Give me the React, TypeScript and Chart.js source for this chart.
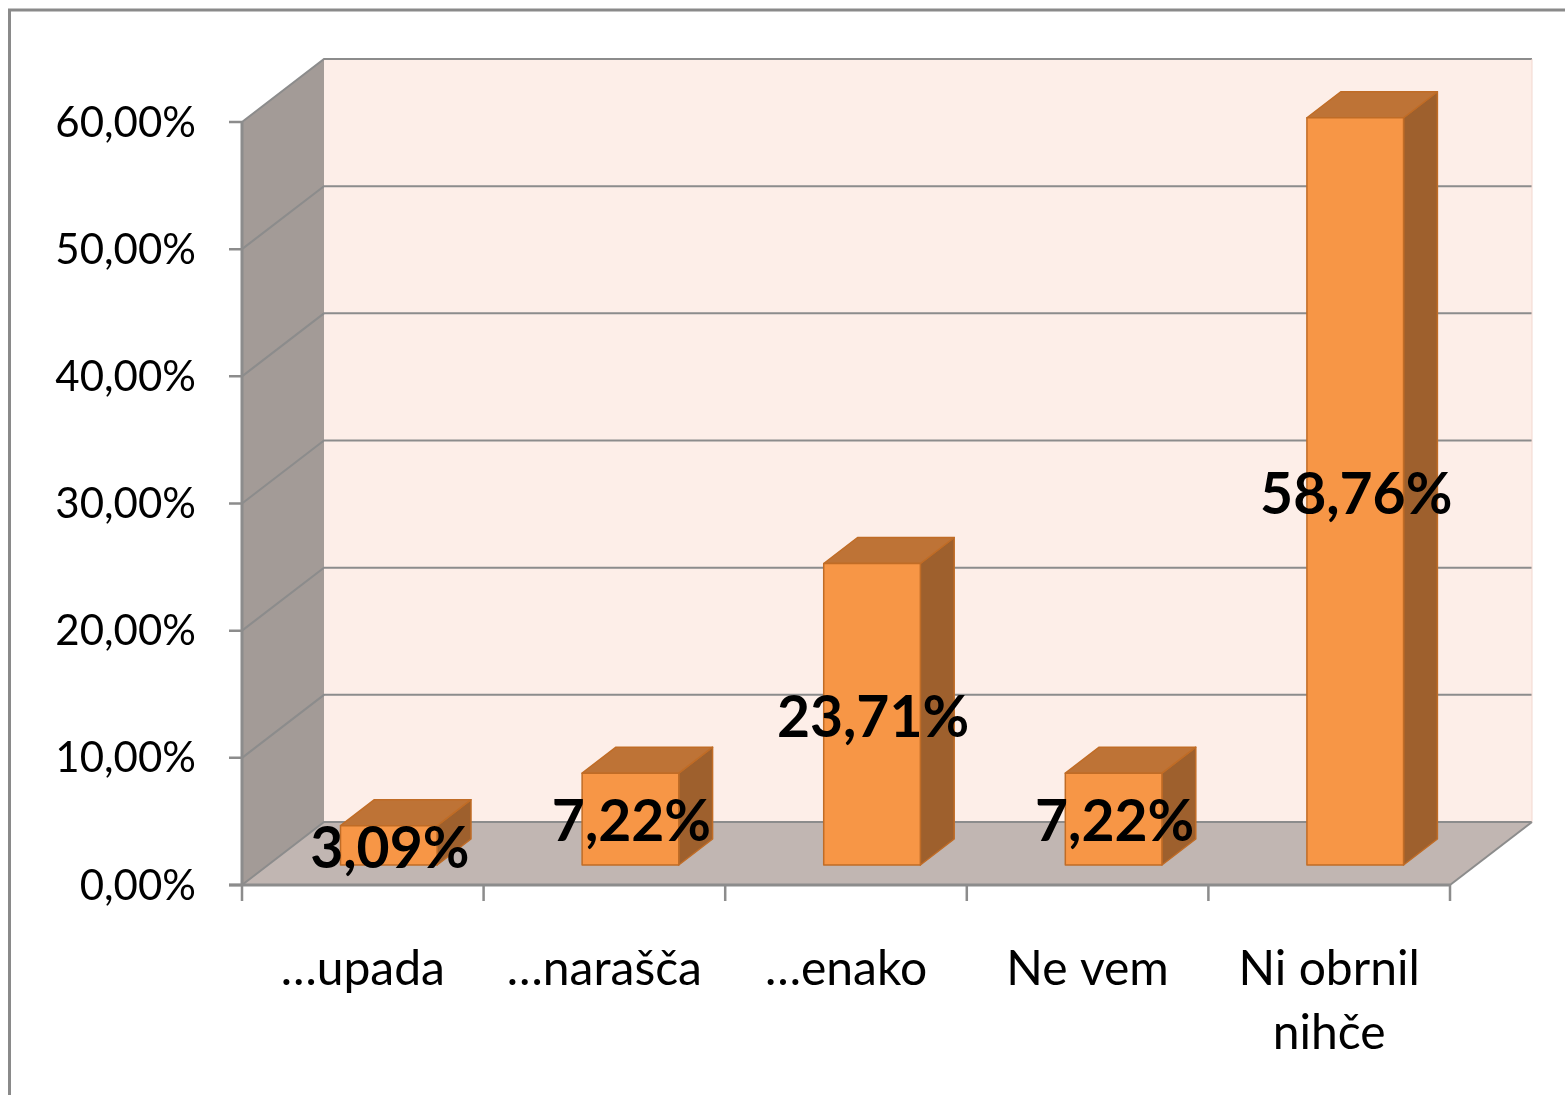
import React, { useEffect, useRef } from "react";
import { Chart, registerables } from "chart.js";

Chart.register(...registerables);

const categories: string[][] = [["…upada"], ["…narašča"], ["…enako"], ["Ne vem"], ["Ni obrnil", "nihče"]];
const values: number[] = [3.09, 7.22, 23.71, 7.22, 58.76];
const valueLabels: string[] = ["3,09%", "7,22%", "23,71%", "7,22%", "58,76%"];
const yTickValues: number[] = [0, 10, 20, 30, 40, 50, 60];
const yTickLabels: string[] = ["0,00%", "10,00%", "20,00%", "30,00%", "40,00%", "50,00%", "60,00%"];

const W = 1565;
const H = 1095;
const DEPTH_X = 82;
const DEPTH_Y = -63;
const FRONT_FRAC = 20 / 63;
const BAR_FRAC = 26 / 63;
const FONT = "Lato, 'Open Sans', sans-serif";

const threeDPlugin = {
  id: "threeD",
  beforeDraw(chart: any) {
    const ctx = chart.ctx;
    ctx.save();
    ctx.fillStyle = "#ffffff";
    ctx.fillRect(0, 0, W, H);
    // outer border
    ctx.strokeStyle = "#8a8a8a";
    ctx.lineWidth = 3;
    ctx.beginPath();
    ctx.moveTo(9.5, H + 10);
    ctx.lineTo(9.5, 10);
    ctx.lineTo(W + 10, 10);
    ctx.stroke();
    ctx.restore();
  },
  afterDatasetsDraw(chart: any) {
    const ctx = chart.ctx;
    const ca = chart.chartArea;
    const ys = chart.scales.y;
    const xs = chart.scales.x;
    const L = ca.left, R = ca.right, B = ys.getPixelForValue(0), T = ys.getPixelForValue(60);
    ctx.save();

    // left side wall
    ctx.fillStyle = "#a39b97";
    ctx.beginPath();
    ctx.moveTo(L, B);
    ctx.lineTo(L, T);
    ctx.lineTo(L + DEPTH_X, T + DEPTH_Y);
    ctx.lineTo(L + DEPTH_X, B + DEPTH_Y);
    ctx.closePath();
    ctx.fill();

    // back wall
    ctx.fillStyle = "#fdeee8";
    ctx.fillRect(L + DEPTH_X, T + DEPTH_Y, R - L, B - T);

    // floor
    ctx.fillStyle = "#c1b6b2";
    ctx.beginPath();
    ctx.moveTo(L, B);
    ctx.lineTo(L + DEPTH_X, B + DEPTH_Y);
    ctx.lineTo(R + DEPTH_X, B + DEPTH_Y);
    ctx.lineTo(R, B);
    ctx.closePath();
    ctx.fill();

    // gridlines
    ctx.strokeStyle = "#8c8c8c";
    ctx.lineWidth = 2;
    yTickValues.forEach((v) => {
      const py = ys.getPixelForValue(v);
      ctx.beginPath();
      ctx.moveTo(L, py);
      ctx.lineTo(L + DEPTH_X, py + DEPTH_Y);
      ctx.lineTo(R + DEPTH_X, py + DEPTH_Y);
      ctx.stroke();
    });
    // back wall right edge faint
    ctx.strokeStyle = "#f2d8d0";
    ctx.lineWidth = 1;
    ctx.beginPath();
    ctx.moveTo(R + DEPTH_X, T + DEPTH_Y);
    ctx.lineTo(R + DEPTH_X, B + DEPTH_Y);
    ctx.stroke();

    // floor right edge
    ctx.strokeStyle = "#8c8c8c";
    ctx.lineWidth = 2;
    ctx.beginPath();
    ctx.moveTo(R, B);
    ctx.lineTo(R + DEPTH_X, B + DEPTH_Y);
    ctx.stroke();

    // axis lines
    ctx.lineWidth = 3;
    ctx.beginPath();
    ctx.moveTo(L, T);
    ctx.lineTo(L, B);
    ctx.moveTo(L - 13, B);
    ctx.lineTo(R, B);
    ctx.stroke();
    ctx.lineWidth = 2.5;
    ctx.beginPath();
    yTickValues.forEach((v) => {
      const py = ys.getPixelForValue(v);
      ctx.moveTo(L - 13, py);
      ctx.lineTo(L, py);
    });
    const n = categories.length;
    for (let i = 0; i <= n; i++) {
      const px = L + ((R - L) * i) / n;
      ctx.moveTo(px, B);
      ctx.lineTo(px, B + 16);
    }
    ctx.stroke();

    // bars
    const meta = chart.getDatasetMeta(0);
    const ox = DEPTH_X * FRONT_FRAC, oy = DEPTH_Y * FRONT_FRAC;
    const dx = DEPTH_X * BAR_FRAC, dy = DEPTH_Y * BAR_FRAC;
    meta.data.forEach((el: any) => {
      const p = el.getProps(["x", "y", "base", "width"], true);
      const x0 = p.x - p.width / 2 + ox;
      const x1 = p.x + p.width / 2 + ox;
      const yt = p.y + oy;
      const yb = p.base + oy;
      ctx.lineJoin = "round";
      ctx.lineWidth = 1.5;
      ctx.strokeStyle = "#c06c26";
      // side
      ctx.fillStyle = "#9e602d";
      ctx.beginPath();
      ctx.moveTo(x1, yt);
      ctx.lineTo(x1 + dx, yt + dy);
      ctx.lineTo(x1 + dx, yb + dy);
      ctx.lineTo(x1, yb);
      ctx.closePath();
      ctx.fill();
      ctx.stroke();
      // top
      ctx.fillStyle = "#be7336";
      ctx.beginPath();
      ctx.moveTo(x0, yt);
      ctx.lineTo(x1, yt);
      ctx.lineTo(x1 + dx, yt + dy);
      ctx.lineTo(x0 + dx, yt + dy);
      ctx.closePath();
      ctx.fill();
      ctx.stroke();
      // front
      ctx.fillStyle = "#f79646";
      ctx.beginPath();
      ctx.rect(x0, yt, x1 - x0, yb - yt);
      ctx.fill();
      ctx.stroke();
    });

    // y tick labels
    ctx.fillStyle = "#000000";
    ctx.font = `42px ${FONT}`;
    ctx.textAlign = "right";
    ctx.textBaseline = "middle";
    yTickValues.forEach((v, i) => {
      ctx.fillText(yTickLabels[i], 196, ys.getPixelForValue(v) + 1);
    });

    // category labels
    ctx.font = `48px ${FONT}`;
    ctx.textAlign = "center";
    categories.forEach((lines, i) => {
      const cx = xs.getPixelForValue(i);
      lines.forEach((t, j) => {
        ctx.fillText(t, cx, 970 + j * 64);
      });
    });

    // data labels
    ctx.font = `bold 57px ${FONT}`;
    meta.data.forEach((el: any, i: number) => {
      const p = el.getProps(["x", "y", "base", "width"], true);
      const cx = p.x + ox;
      const cy = (p.y + p.base) / 2 + oy;
      ctx.fillText(valueLabels[i], cx + 1, cy + 4);
    });

    ctx.restore();
  },
};

export default function App() {
  const ref = useRef<HTMLCanvasElement | null>(null);
  useEffect(() => {
    if (!ref.current) return;
    const chart = new Chart(ref.current, {
      type: "bar",
      data: {
        labels: categories.map((c) => c.join(" ")),
        datasets: [
          {
            data: values,
            backgroundColor: "rgba(0,0,0,0)",
            borderWidth: 0,
            barPercentage: 0.4,
            categoryPercentage: 1,
          },
        ],
      },
      options: {
        responsive: false,
        animation: false,
        devicePixelRatio: 1,
        layout: { padding: { left: 242, right: W - 1450, top: 122, bottom: H - 885 } },
        plugins: { legend: { display: false }, tooltip: { enabled: false } },
        scales: {
          x: { display: false },
          y: { display: false, min: 0, max: 60 },
        },
      },
      plugins: [threeDPlugin],
    });
    return () => chart.destroy();
  }, []);
  return (
    <div style={{ position: "absolute", left: 0, top: 0, width: W, height: H }}>
      <canvas ref={ref} width={W} height={H} style={{ display: "block", width: W, height: H }} />
    </div>
  );
}
